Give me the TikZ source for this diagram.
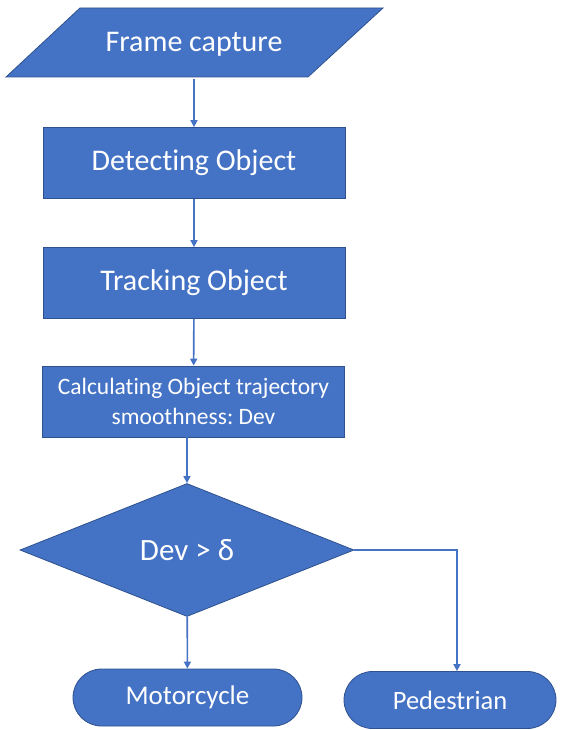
\documentclass[tikz,border=0pt]{standalone}
\usepackage{fontspec}
\setmainfont{Carlito}[Ligatures=NoCommon]
\usepackage{tikz}
\usetikzlibrary{positioning,shapes.geometric,shapes.misc,arrows.meta}
\definecolor{boxblue}{RGB}{68,114,196}
\definecolor{edgeblue}{RGB}{47,82,143}
\frenchspacing

\begin{document}
\begin{tikzpicture}[
  x=1pt, y=-1pt,
  every node/.style={font=\fontsize{30}{36}\selectfont, text=white},
  blockfill/.style={draw=edgeblue, line width=0.8pt, fill=boxblue, inner sep=0pt},
  proc/.style={blockfill, rectangle, minimum width=302, minimum height=71},
  decision/.style={blockfill, diamond, minimum width=334, minimum height=133},
  term/.style={blockfill, rounded rectangle, minimum height=57, font=\fontsize{27}{32}\selectfont},
  flow/.style={-{Triangle[length=7pt,width=7pt]}, line width=1.6pt, color=boxblue}
]
  \useasboundingbox (0,0) rectangle (570,730);

  % input parallelogram
  \filldraw[blockfill] (80,8) -- (383,8) -- (308,77) -- (6,77) -- cycle;
  \node[minimum height=69, inner sep=0pt] (frame) at (194,44) {Frame capture};

  \node[proc]     (detect) at (194,163) {Detecting Object};
  \node[proc]     (track)  at (194,283) {Tracking Object};
  \node[proc, align=center, font=\fontsize{23.5}{30}\selectfont]
                  (calc)   at (193.5,401.5) {Calculating Object trajectory\\smoothness: Dev};
  \node[decision, font=\fontsize{31}{36}\selectfont] (dev) at (187,550) {Dev > δ};
  \node[term, minimum width=229] (moto) at (187.5,697.5) {Motorcycle};
  \node[term, minimum width=212, font=\fontsize{26.5}{32}\selectfont] (ped) at (450,700) {Pedestrian};
  \coordinate (corner) at (457,550);

  \draw[flow] (frame.south -| detect) -- (detect.north);
  \draw[flow] (detect) -- (track);
  \draw[flow] (track) -- (calc);
  \draw[flow] (calc.south -| dev) -- (dev.north);
  \draw[flow] (dev) -- (moto);
  \draw[flow] (dev.east) -- (corner) -- (corner |- ped.north);
\end{tikzpicture}
\end{document}
